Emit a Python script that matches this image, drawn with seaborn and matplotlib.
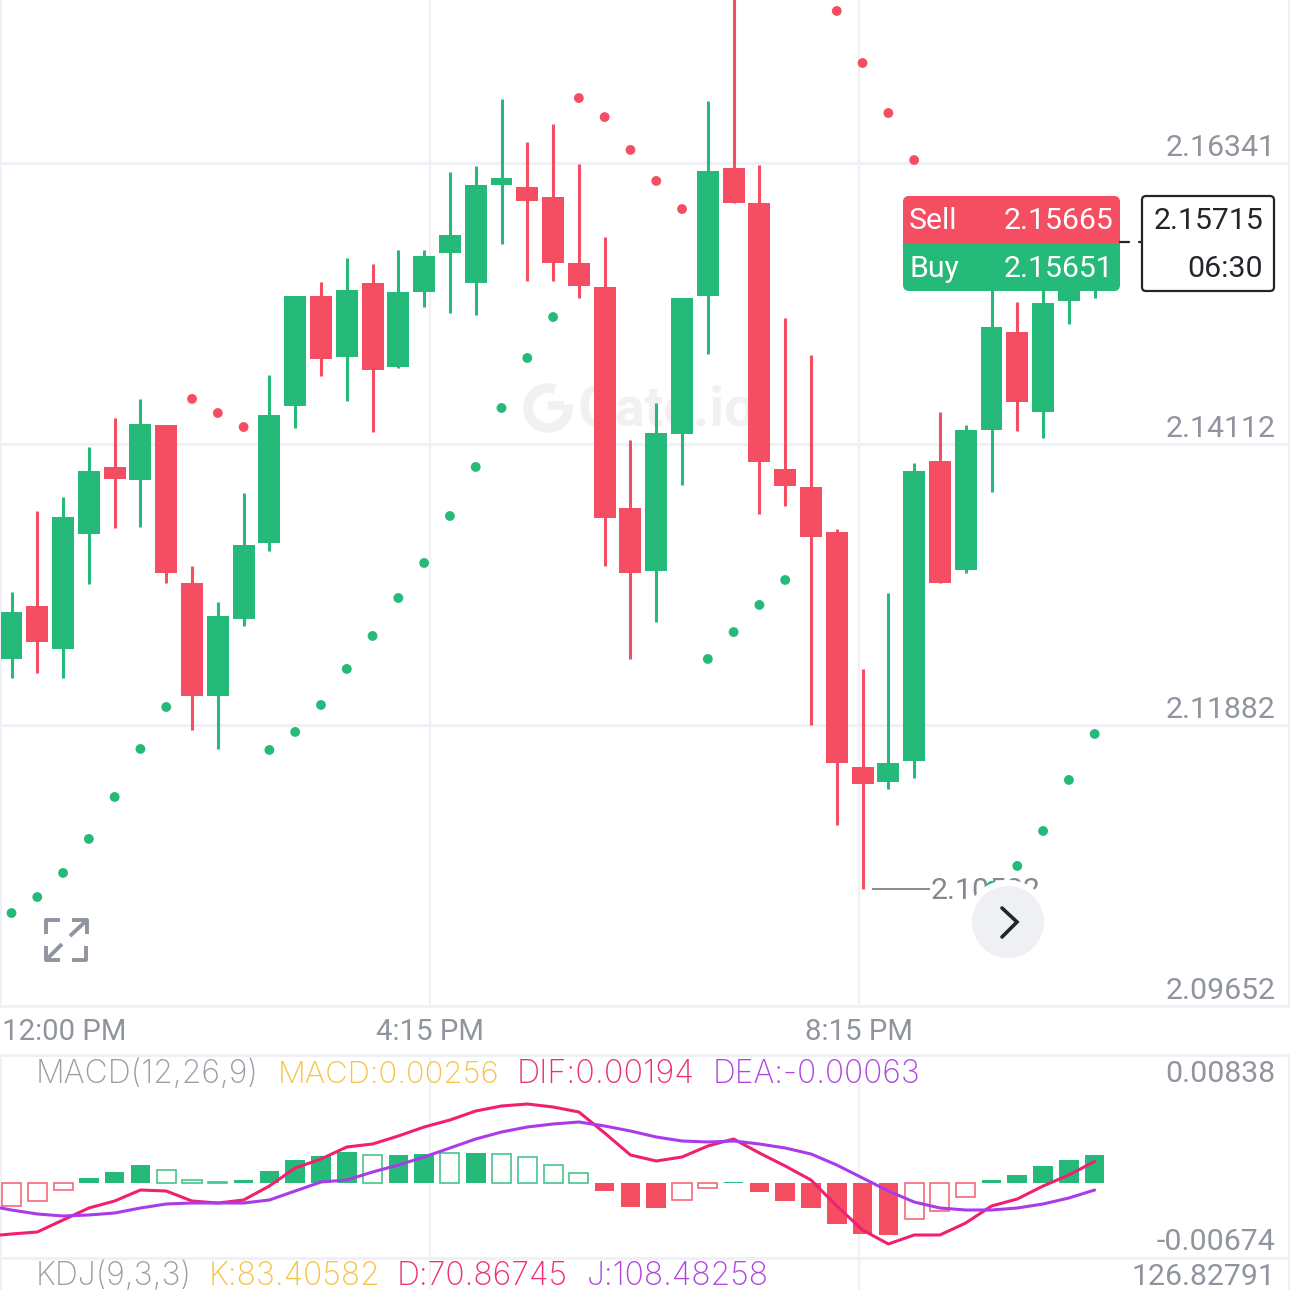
import numpy as np
import matplotlib
matplotlib.use("Agg")
import matplotlib.pyplot as plt
from matplotlib.patches import Circle, FancyBboxPatch, Rectangle, Arc
import pandas as pd
import seaborn as sns

# candle prices, one value per candle
OPEN = [2.12405, 2.12826, 2.12485, 2.13397, 2.13929, 2.13826, 2.14262, 2.13008, 2.12112, 2.12723,
        2.13326, 2.14413, 2.15286, 2.14802, 2.15389, 2.14722, 2.15318, 2.15627, 2.15389, 2.16167,
        2.16151, 2.16072, 2.15548, 2.15357, 2.13604, 2.13104, 2.14191, 2.15286, 2.16302, 2.16024,
        2.13913, 2.13770, 2.13413, 2.11548, 2.11429, 2.11596, 2.13977, 2.13111, 2.14223, 2.15000,
        2.14365, 2.15246, 2.15334]
CLOSE = [2.12778, 2.12540, 2.13532, 2.13897, 2.13834, 2.14270, 2.13088, 2.12112, 2.12746, 2.13310,
         2.14342, 2.15286, 2.14786, 2.15334, 2.14699, 2.15318, 2.15603, 2.15770, 2.16167, 2.16222,
         2.16040, 2.15548, 2.15365, 2.13524, 2.13088, 2.14199, 2.15270, 2.16278, 2.16024, 2.13969,
         2.13778, 2.13373, 2.11580, 2.11413, 2.11580, 2.13897, 2.13008, 2.14223, 2.15040, 2.14445,
         2.15230, 2.15453, 2.15715]
HIGH = [2.12937, 2.13580, 2.13691, 2.14088, 2.14318, 2.14469, 2.14262, 2.13143, 2.12858, 2.13723,
        2.14659, 2.15286, 2.15397, 2.15588, 2.15540, 2.15651, 2.15651, 2.16270, 2.16318, 2.16849,
        2.16508, 2.16651, 2.16333, 2.15754, 2.14143, 2.14437, 2.15270, 2.16833, 2.17700, 2.16326,
        2.15111, 2.14818, 2.13437, 2.12326, 2.12929, 2.13961, 2.14365, 2.14262, 2.15373, 2.15238,
        2.15373, 2.15492, 2.15770]
LOW = [2.12254, 2.12294, 2.12254, 2.13000, 2.13445, 2.13453, 2.13008, 2.11842, 2.11691, 2.12667,
       2.13262, 2.14238, 2.14651, 2.14453, 2.14207, 2.14715, 2.15199, 2.15151, 2.15135, 2.15699,
       2.15405, 2.15405, 2.15270, 2.13143, 2.12405, 2.12699, 2.13786, 2.14826, 2.16024, 2.13556,
       2.13619, 2.11881, 2.11088, 2.10582, 2.11373, 2.11461, 2.13008, 2.13088, 2.13731, 2.14215,
       2.14159, 2.15064, 2.15270]

# parabolic SAR dots
SAR = [2.10389, 2.10516, 2.10707, 2.10977, 2.11310, 2.11691, 2.12024, 2.14469, 2.14357, 2.14246,
       2.11683, 2.11826, 2.12040, 2.12326, 2.12588, 2.12889, 2.13167, 2.13540, 2.13929, 2.14397,
       2.14794, 2.15119, 2.16857, 2.16706, 2.16445, 2.16199, 2.15976, 2.12405, 2.12619, 2.12834,
       2.13032, 2.18000, 2.17548, 2.17135, 2.16738, 2.16365, 2.16008, 2.15691, 2.10604, 2.10763,
       2.11040, 2.11445, 2.11810]
SAR_SIDE = ["g"] * 7 + ["r"] * 3 + ["g"] * 12 + ["r"] * 5 + ["g"] * 4 + ["r"] * 7 + ["g"] * 5

# MACD pane
MACD_HIST = [-.00207, -.00162, -.00063, .00045, .00099, .00162, .00117, .00027, .00009, .00027,
             .00108, .00207, .00243, .00279, .00252, .00252, .00261, .00270, .00270, .00261,
             .00234, .00162, .00090, -.00072, -.00216, -.00225, -.00153, -.00045, .00009, -.00081,
             -.00162, -.00225, -.00369, -.00459, -.00468, -.00324, -.00252, -.00126, .00027, .00072,
             .00153, .00207, .00256]
MACD_HOLLOW = [0, 1, 2, 6, 7, 8, 14, 17, 19, 20, 21, 22, 26, 27, 35, 36, 37]
# the two lines start one bar before the first candle, they run off the left edge
DIF = [-.00480, -.00459, -.00441, -.00333, -.00225, -.00162, -.00063, -.00072, -.00162, -.00180, -.00153,
       -.00027, .00135, .00216, .00324, .00351, .00423, .00504, .00567, .00648, .00693,
       .00711, .00684, .00639, .00450, .00252, .00198, .00234, .00333, .00396, .00270,
       .00153, .00027, -.00207, -.00423, -.00549, -.00468, -.00468, -.00360, -.00207, -.00144,
       -.00027, .00072, .00194]
DEA = [-.00200, -.00243, -.00279, -.00297, -.00288, -.00270, -.00225, -.00189, -.00180, -.00180, -.00180,
       -.00153, -.00072, .00009, .00027, .00099, .00162, .00234, .00315, .00396, .00459,
       .00504, .00531, .00549, .00513, .00468, .00414, .00378, .00369, .00378, .00351,
       .00315, .00261, .00162, .00045, -.00072, -.00171, -.00225, -.00243, -.00243, -.00225,
       -.00189, -.00135, -.00063]

PRICE_TICKS = [2.16341, 2.14112, 2.11882, 2.09652]
TIME_TICKS = [16.23, 32.86]
TIME_LABELS = ["4:15 PM", "8:15 PM"]

GREEN = "#26ba7a"
RED = "#f54e63"
GRID = "#f0f1f6"
GREY = "#8f949e"
DARK = "#22262b"
FS = 21.8

sns.set_theme(style="white")
plt.rcParams["font.family"] = ["Roboto", "DejaVu Sans"]

fig = plt.figure(figsize=(12.9, 12.9), dpi=100, facecolor="white")


def pane(top, bottom, zorder=1):
    a = fig.add_axes([0, 1 - bottom / 1290, 1, (bottom - top) / 1290], zorder=zorder)
    a.patch.set_visible(False)
    for s in a.spines.values():
        s.set_visible(False)
    a.set_xlim(-0.446, 49.574)
    a.set_xticks([])
    a.set_yticks([])
    a.set_xlabel("")
    a.set_ylabel("")
    return a


# pixel layers for the app chrome around the chart
ax_bg = fig.add_axes([0, 0, 1, 1], zorder=0)
ax_ui = fig.add_axes([0, 0, 1, 1], zorder=10)
for a in (ax_bg, ax_ui):
    a.set_xlim(0, 1290)
    a.set_ylim(1290, 0)
    a.axis("off")

ax = pane(0, 1006)
ax.set_ylim(2.09651, 2.17635)
ax_macd = pane(1055, 1258)
ax_macd.set_ylim(-0.00675, 0.01152)
ax_kdj = pane(1258, 1290)

# grid
for p in PRICE_TICKS:
    ax.axhline(p, color=GRID, lw=2.2, zorder=0, clip_on=False)
for t in TIME_TICKS:
    ax.axvline(t, color=GRID, lw=1.6, zorder=0)
    ax_macd.axvline(t, color=GRID, lw=1.6, zorder=0)
    ax_kdj.axvline(t, color=GRID, lw=1.6, zorder=0)
for y in (1055, 1258):
    ax_bg.axhline(y, color=GRID, lw=2.2)
for x in (1, 1289):
    ax_bg.axvline(x, ymin=1 - 1006 / 1290, color=GRID, lw=1.4)
    ax_bg.plot([x, x], [1055, 1290], color=GRID, lw=1.4)

# watermark
ax_bg.add_patch(Arc((548, 408), 40, 40, theta1=-10, theta2=290, color="#f1f1f2", lw=7))
ax_bg.add_patch(Rectangle((548, 401), 16, 9, color="#f1f1f2", lw=0))
ax_bg.text(577, 410, "Gate.io", fontsize=40, color="#f1f1f2", va="center", ha="left",
           fontweight="bold", family="Roboto")

# candles
candles = pd.DataFrame({"i": np.arange(len(OPEN)), "open": OPEN, "close": CLOSE, "high": HIGH, "low": LOW})
candles["color"] = np.where(candles["close"] >= candles["open"], GREEN, RED)
candles["body_top"] = candles[["open", "close"]].max(axis=1)
candles["body_bot"] = candles[["open", "close"]].min(axis=1)
ax.vlines(candles["i"], candles["low"], candles["high"], colors=candles["color"], lw=2.2, zorder=2)
ax.bar(candles["i"], candles["body_top"] - candles["body_bot"], bottom=candles["body_bot"], width=0.85,
       color=candles["color"], lw=0, zorder=3)

# SAR
sar = pd.DataFrame({"i": np.arange(len(SAR)), "sar": SAR, "side": SAR_SIDE})
sns.scatterplot(data=sar, x="i", y="sar", hue="side", palette={"g": GREEN, "r": RED}, s=50,
                linewidth=0, legend=False, ax=ax, zorder=4)
ax.set_xlabel("")
ax.set_ylabel("")

# axis labels
for p, lbl in zip(PRICE_TICKS, ["2.16341", "2.14112", "2.11882", "2.09652"]):
    ax.annotate(lbl, xy=(1, p), xycoords=ax.get_yaxis_transform(), xytext=(-10.5, 11.0),
                textcoords="offset points", ha="right", va="center", fontsize=FS, color=GREY,
                annotation_clip=False)
for t, lbl in zip(TIME_TICKS, TIME_LABELS):
    ax_ui.text(ax.transData.transform((t, 2.1))[0], 1032, lbl, ha="center", va="center",
               fontsize=21.2, color=GREY)
ax_ui.text(2, 1032, "12:00 PM", ha="left", va="center", fontsize=21.2, color=GREY)

# lowest price marker
ax.hlines(2.10582, 33.37, 35.6, color="#8a8a8a", lw=1.4, zorder=2)
ax.annotate("2.10582", xy=(35.65, 2.10582), xytext=(0, -1.4), textcoords="offset points",
            ha="left", va="center", fontsize=FS, color="#85888f", zorder=2)

# MACD histogram
hist = pd.DataFrame({"i": np.arange(len(MACD_HIST)), "v": MACD_HIST})
hist["color"] = np.where(hist["v"] >= 0, GREEN, RED)
hist["hollow"] = hist["i"].isin(MACD_HOLLOW)
solid = hist[~hist["hollow"]]
hollow = hist[hist["hollow"]]
ax_macd.bar(solid["i"], solid["v"], width=0.76, color=solid["color"], lw=0, zorder=2)
ax_macd.bar(hollow["i"], hollow["v"], width=0.74, facecolor="white", edgecolor=hollow["color"],
            lw=1.2, alpha=0.85, zorder=2)

lines = pd.DataFrame({"i": np.arange(len(DIF)) - 1, "DIF": DIF, "DEA": DEA})
sns.lineplot(data=lines, x="i", y="DIF", color="#f01f70", lw=2.2, ax=ax_macd, zorder=3)
sns.lineplot(data=lines, x="i", y="DEA", color="#a93be8", lw=2.2, ax=ax_macd, zorder=4)
ax_macd.set_xlabel("")
ax_macd.set_ylabel("")

# indicator captions
captions = [("MACD(12,26,9)", 36, 1083, "#9a9da3", 23), ("MACD:0.00256", 278, 1083, "#f6c343", 22.3),
            ("DIF:0.00194", 517, 1083, "#ee2f78", 23.3), ("DEA:-0.00063", 713, 1083, "#b044e0", 22.8),
            ("KDJ(9,3,3)", 36, 1285, "#9a9da3", 23), ("K:83.40582", 209, 1285, "#f6c343", 23),
            ("D:70.86745", 397, 1285, "#ee2f78", 23), ("J:108.48258", 587, 1285, "#b044e0", 23)]
for txt, x, y, c, size in captions:
    ax_ui.text(x, y, txt, ha="left", va="baseline", fontsize=size, color=c, family="Inter", fontweight="light")
for txt, y in [("0.00838", 1082), ("-0.00674", 1250), ("126.82791", 1285)]:
    ax_ui.text(1275, y, txt, ha="right", va="baseline", fontsize=FS, color=GREY)

# current price dash and quote boxes
ax_ui.plot([1120, 1129], [242, 242], color=DARK, lw=1.6)
ax_ui.plot([1139, 1142], [242, 242], color=DARK, lw=1.6)
round_box = "round,pad=0,rounding_size=6"
ax_ui.add_patch(FancyBboxPatch((903, 196), 217, 70, boxstyle=round_box, fc=RED, ec="none"))
ax_ui.add_patch(Rectangle((903, 243), 217, 30, fc=GREEN, ec="none"))
ax_ui.add_patch(FancyBboxPatch((903, 255), 217, 36, boxstyle=round_box, fc=GREEN, ec="none"))
ax_ui.text(909, 221, "Sell", ha="left", va="center", fontsize=FS, color="white")
ax_ui.text(1113, 221, "2.15665", ha="right", va="center", fontsize=FS, color="white")
ax_ui.text(909, 269, "Buy", ha="left", va="center", fontsize=FS, color="white")
ax_ui.text(1113, 269, "2.15651", ha="right", va="center", fontsize=FS, color="white")
ax_ui.add_patch(FancyBboxPatch((1142, 196), 132, 95, boxstyle="round,pad=0,rounding_size=4",
                               fc="white", ec=DARK, lw=1.6))
ax_ui.text(1263, 221, "2.15715", ha="right", va="center", fontsize=FS, color=DARK)
ax_ui.text(1263, 269, "06:30", ha="right", va="center", fontsize=FS, color=DARK)

# scroll button
ax_ui.add_patch(Circle((1008, 922), 42, fc="white", ec="none"))
ax_ui.add_patch(Circle((1008, 922), 36, fc="#eff0f4", ec="none"))
ax_ui.plot([1002, 1017, 1002], [908, 922, 937], color=DARK, lw=2.6, solid_capstyle="round",
           solid_joinstyle="miter")

# fullscreen icon
for xs, ys in [([46, 46, 60], [934, 920, 920]), ([72, 87, 87], [920, 920, 934]),
               ([46, 46, 60], [946, 960, 960]), ([72, 86, 86], [960, 960, 946]),
               ([86, 70], [921, 936]), ([46, 62], [960, 944])]:
    ax_ui.plot(xs, ys, color=GREY, lw=2.8, solid_capstyle="butt")

fig.savefig("out.png", dpi=100)
